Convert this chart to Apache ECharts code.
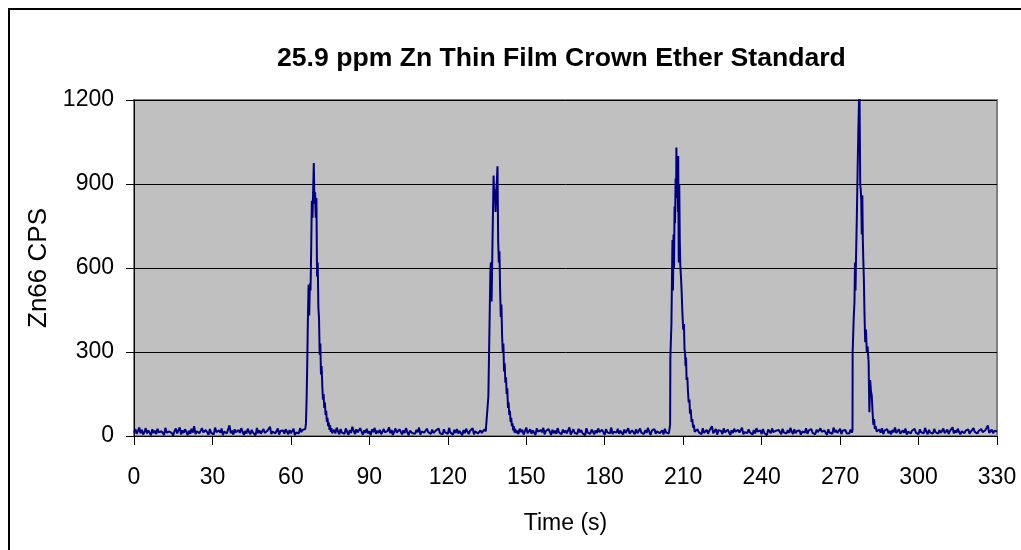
<!DOCTYPE html>
<html>
<head>
<meta charset="utf-8">
<title>Zn Thin Film Crown Ether Standard</title>
<script src="https://cdn.jsdelivr.net/npm/echarts@6/dist/echarts.min.js"></script>
<style>
  body { margin: 0; background: #ffffff; }
  #chart { width: 1021px; height: 550px; }
</style>
</head>
<body>
<div id="chart"></div>
<script>
// axis ticks
var xTicks = [0, 30, 60, 90, 120, 150, 180, 210, 240, 270, 300, 330];
var yTicks = [0, 300, 600, 900, 1200];

// baseline stretches: start time (s), 0.5 s between readings
var baseStep = 0.5;
var base1Start = 0;
var base1 = [12,25,8,18,30,10,22,5,15,28,9,20,14,3,24,11,19,7,26,13,
  6,17,21,4,29,12,8,16,23,10,2,18,27,9,14,31,6,20,11,24,
  15,3,19,8,26,12,35,7,17,22,10,5,28,13,9,21,16,4,25,11,
  18,6,30,14,8,20,12,27,3,16,23,9,15,38,10,19,5,24,13,7,
  21,11,28,16,4,18,9,26,14,6,22,12,17,3,29,10,20,8,15,25,
  11,4,19,13,33,7,16,22,9,14,27,5,18,12,20,8,24,15,6,21,
  10,17,26,3,13,19,9,28,14,22,18];
var base2Start = 76;
var base2 = [14,22,9,30,17,6,25,12,19,8,27,15,4,21,11,33,18,7,24,13,
  10,28,16,5,20,12,26,9,17,3,23,14,29,8,19,11,22,6,15,25,
  13,7,18,31,10,21,4,16,27,12,9,24,15,6,20,11,28,14,3,19,
  25,10,17,8,22,13,30,5,16,21,12,9,26,14,18,7,23,11,4,20,
  15,27,10,17,6,24,13,19,8,29,12,16,5,22,11,25,9,18,14,3,
  21,10,26,15,7,19,12,28,6,17,23,9,14,20,11,5,24,16,13];
var base3Start = 146;
var base3 = [11,19,7,26,14,22,5,17,30,10,15,24,8,20,12,3,27,16,9,21,
  13,29,6,18,11,25,15,4,22,10,19,8,28,13,17,6,23,12,20,9,
  16,31,5,14,24,11,18,7,26,13,21,10,15,3,28,12,19,8,23,16,
  6,20,11,27,14,9,22,17,4,25,13,18,10,30,7,15,21,12,26,8,
  19,14,5,23,11,17,28,9,16,20,13,6,24,10,18,27,12,15,7,21,
  11,29,16,4,19,13,25,8,17,22,10,14,20,6,26,12,18,9];
var base4Start = 214.5;
var base4 = [17,9,24,13,20,6,28,11,15,22,8,19,12,35,10,16,25,5,21,14,
  18,7,27,13,9,23,16,4,20,11,26,15,8,22,12,18,30,6,14,19,
  10,24,13,17,5,21,9,28,16,12,20,7,25,11,15,3,23,18,10,27,
  14,8,19,12,22,16,6,26,13,17,9,21,11,29,15,7,24,10,18,14,
  20,5,16,23,12,28,8,19,13,25,11,17,6,22,14,9,27,15,10,20,
  18,4,24,12,16,8,30,13,21,11,15,26,7,19,14,22,10,17,9,23];
var base5Start = 284;
var base5 = [16,9,23,12,28,7,19,14,25,10,18,6,21,13,30,11,17,24,8,15,
  20,12,27,5,16,22,9,19,14,26,11,18,7,24,13,20,10,29,15,6,
  22,12,17,9,25,14,19,8,21,11,16,27,10,13,23,7,18,15,31,9,
  20,12,26,14,6,17,22,10,19,13,24,8,16,11,28,15,21,9,18,12,
  25,14,7,20,17,38,11,15,23,10,19,13,16];

// peaks: [time (s), Zn66 CPS]
var peak1 = [[65.5,25],[65.75,45],[66,130],[66.25,260],[66.5,420],[66.75,540],[67,430],
  [67.25,545],[67.5,520],[67.75,664],[68,840],[68.25,780],[68.5,870],[68.75,975],[69,830],
  [69.25,870],[69.5,780],[69.75,850],[70,570],[70.25,620],[70.5,460],[70.75,420],[71,290],
  [71.25,330],[71.5,220],[71.75,250],[72,180],[72.25,130],[72.5,150],[72.75,100],[73,120],
  [73.25,75],[73.5,90],[73.75,50],[74,65],[74.25,35],[74.5,48],[74.75,22],[75,38],
  [75.25,15],[75.5,28],[75.75,10]];
var peak2 = [[135.25,15],[135.5,140],[136.3,600],[136.5,620],[136.75,480],[137,640],
  [137.25,790],[137.5,930],[137.75,850],[138,880],[138.25,800],[138.5,870],[138.75,910],
  [139,963],[139.25,700],[139.5,620],[139.75,660],[140,520],[140.25,425],[140.5,470],
  [140.75,360],[141,300],[141.25,330],[141.5,230],[141.75,260],[142,190],[142.25,210],
  [142.5,150],[142.75,170],[143,100],[143.25,120],[143.5,75],[143.75,90],[144,50],
  [144.25,65],[144.5,35],[144.75,45],[145,20],[145.25,35],[145.5,12],[145.75,25]];
var peak3 = [[204.75,15],[205,40],[205.1,282],[205.5,400],[205.9,700],[206.1,520],
  [206.3,720],[206.5,600],[206.7,820],[206.9,760],[207.1,920],[207.3,850],[207.4,1030],
  [207.6,880],[207.8,960],[208,800],[208.1,1000],[208.3,620],[208.5,900],[208.7,700],
  [208.9,610],[209.2,560],[209.4,520],[209.7,440],[210,380],[210.3,400],[210.5,310],
  [210.7,300],[210.9,250],[211.1,280],[211.3,200],[211.6,210],[211.8,165],[212.1,120],
  [212.4,130],[212.6,80],[212.9,95],[213.2,50],[213.5,60],[213.8,30],[214.1,40],[214.4,15]];
var peak4 = [[274.5,12],[274.75,20],[274.8,300],[275.2,420],[275.5,478],[275.7,620],
  [275.9,520],[276.1,640],[276.4,780],[276.7,950],[277,1100],[277.4,1260],[277.7,900],
  [277.9,880],[278.1,840],[278.3,720],[278.5,860],[278.7,700],[278.9,620],[279.1,560],
  [279.3,450],[279.6,335],[279.9,380],[280.2,300],[280.5,320],[280.9,265],[281.2,85],
  [281.5,200],[281.8,160],[282.1,145],[282.4,90],[282.7,40],[283,60],[283.3,25],[283.6,35]];

function baseline(start, vals) {
  return vals.map(function(v, i) { return [start + i * baseStep, v]; });
}

var cps = [].concat(
  baseline(base1Start, base1), peak1,
  baseline(base2Start, base2), peak2,
  baseline(base3Start, base3), peak3,
  baseline(base4Start, base4), peak4,
  baseline(base5Start, base5)
);

var chart = echarts.init(document.getElementById('chart'));
var fontFam = '"Liberation Sans", Arial, sans-serif';

chart.setOption({
  animation: false,
  backgroundColor: '#ffffff',
  title: {
    text: '25.9 ppm Zn Thin Film Crown Ether Standard',
    left: 277,
    top: 45,
    padding: 0,
    textStyle: { fontFamily: fontFam, fontSize: 26.6, fontWeight: 'bold', color: '#000' }
  },
  graphic: [{
    type: 'rect',
    shape: { x: 9, y: 9, width: 1100, height: 600 },
    style: { fill: 'none', stroke: '#000', lineWidth: 2 },
    silent: true
  }],
  grid: {
    left: 134, right: 24, top: 100, bottom: 114,
    show: true,
    backgroundColor: '#C0C0C0',
    borderColor: '#808080',
    borderWidth: 2
  },
  xAxis: {
    type: 'value',
    min: xTicks[0],
    max: xTicks[xTicks.length - 1],
    interval: 30,
    name: 'Time (s)',
    nameLocation: 'middle',
    nameGap: 76,
    nameTextStyle: { fontFamily: fontFam, fontSize: 23, color: '#000' },
    axisLine: { show: true, lineStyle: { color: '#000', width: 1 } },
    axisTick: { show: true, length: 9, lineStyle: { color: '#000' } },
    axisLabel: { margin: 30, fontFamily: fontFam, fontSize: 23, color: '#000' },
    splitLine: { show: false }
  },
  yAxis: {
    type: 'value',
    min: yTicks[0],
    max: yTicks[yTicks.length - 1],
    interval: 300,
    name: 'Zn66 CPS',
    nameLocation: 'middle',
    nameGap: 82,
    nameTextStyle: { fontFamily: fontFam, fontSize: 26, color: '#000' },
    axisLine: { show: true, lineStyle: { color: '#000', width: 1 } },
    axisTick: { show: true, length: 8, lineStyle: { color: '#000' } },
    axisLabel: {
      margin: 20, fontFamily: fontFam, fontSize: 23, color: '#000',
      formatter: function(v) { return String(v); }
    },
    splitLine: { show: true, lineStyle: { color: '#000', width: 1 } }
  },
  series: [{
    type: 'line',
    data: cps,
    showSymbol: false,
    clip: true,
    lineStyle: { color: '#000080', width: 2 },
    itemStyle: { color: '#000080' }
  }]
});
</script>
</body>
</html>
